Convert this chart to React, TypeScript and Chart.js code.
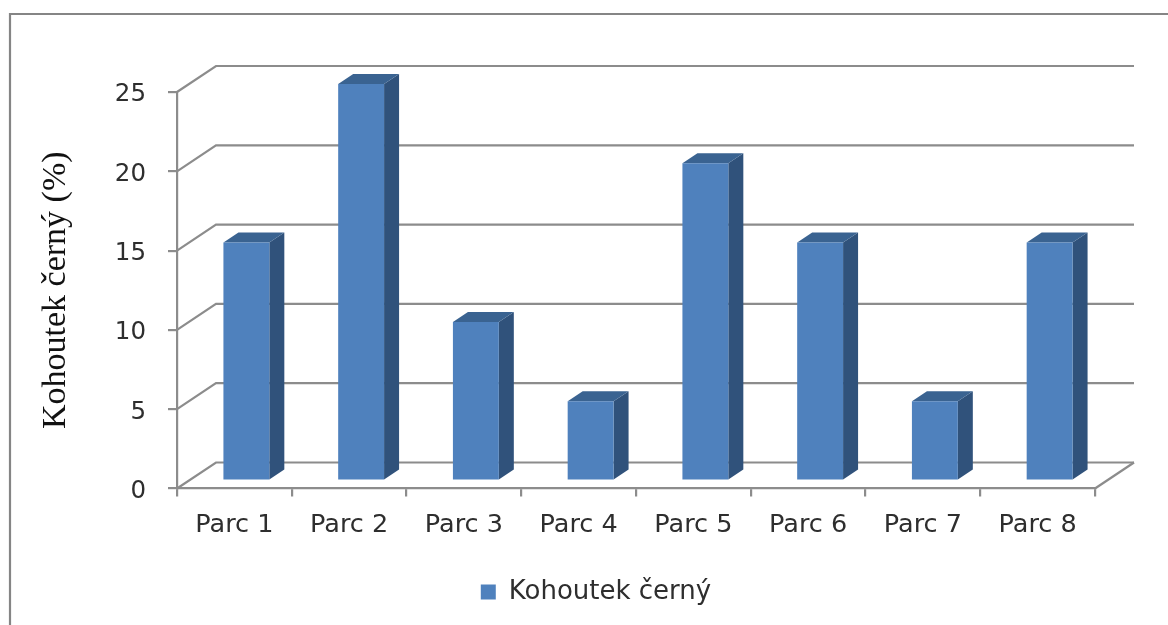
import React, { useEffect, useRef } from "react";
import { Chart, registerables } from "chart.js";

Chart.register(...registerables);

const categories = ["Parc 1", "Parc 2", "Parc 3", "Parc 4", "Parc 5", "Parc 6", "Parc 7", "Parc 8"];
const seriesValues = [15, 25, 10, 5, 20, 15, 5, 15];
const seriesName = "Kohoutek černý";
const axisTitle = "Kohoutek černý (%)";
const yTicks = [0, 5, 10, 15, 20, 25];

const LINE = "#8c8c8c";
const FACE = "#4f81bd";
const SIDE = "#30527b";
const TOP = "#3a6391";
const TEXT = "#2e2e2e";
const UI_FONT = "'DejaVu Sans', sans-serif";
const LINE_WIDTH = 2.2;

// Receding offset of the back wall, and of a bar's floor position and depth.
const WALL_DX = 39;
const WALL_DY = -26;
const BAR_SHIFT_X = 12;
const BAR_SHIFT_Y = -8;
const BAR_DX = 15;
const BAR_DY = -10;

const depthPlugin = {
  id: "depth",
  beforeDraw(chart: any) {
    // Outer frame, open towards the right and bottom page edges.
    const { ctx, width, height } = chart;
    ctx.save();
    ctx.strokeStyle = "#858585";
    ctx.lineWidth = LINE_WIDTH;
    ctx.beginPath();
    ctx.moveTo(10, height);
    ctx.lineTo(10, 14);
    ctx.lineTo(width, 14);
    ctx.stroke();
    ctx.restore();
  },
  beforeDatasetsDraw(chart: any) {
    const { ctx, chartArea, scales } = chart;
    const { left, right, bottom } = chartArea;
    ctx.save();
    ctx.strokeStyle = LINE;
    ctx.lineWidth = LINE_WIDTH;
    for (const value of yTicks) {
      const y = scales.y.getPixelForValue(value);
      ctx.beginPath();
      ctx.moveTo(left, y);
      ctx.lineTo(left + WALL_DX, y + WALL_DY);
      ctx.lineTo(right + WALL_DX, y + WALL_DY);
      ctx.stroke();
    }
    ctx.beginPath();
    ctx.moveTo(right, bottom);
    ctx.lineTo(right + WALL_DX, bottom + WALL_DY);
    ctx.stroke();
    ctx.restore();

    // Bars stand in the middle of the floor, so they sit up and to the right of the front axes.
    ctx.save();
    ctx.translate(BAR_SHIFT_X, BAR_SHIFT_Y);
    const bars = chart.getDatasetMeta(0).data;
    for (const bar of bars) {
      const x0 = bar.x - bar.width / 2;
      const x1 = bar.x + bar.width / 2;
      ctx.fillStyle = SIDE;
      ctx.beginPath();
      ctx.moveTo(x1, bar.y);
      ctx.lineTo(x1 + BAR_DX, bar.y + BAR_DY);
      ctx.lineTo(x1 + BAR_DX, bar.base + BAR_DY);
      ctx.lineTo(x1, bar.base);
      ctx.closePath();
      ctx.fill();
      ctx.fillStyle = TOP;
      ctx.beginPath();
      ctx.moveTo(x0, bar.y);
      ctx.lineTo(x0 + BAR_DX, bar.y + BAR_DY);
      ctx.lineTo(x1 + BAR_DX, bar.y + BAR_DY);
      ctx.lineTo(x1, bar.y);
      ctx.closePath();
      ctx.fill();
    }
  },
  afterDatasetsDraw(chart: any) {
    chart.ctx.restore();
  },
};

export default function App() {
  const ref = useRef<HTMLCanvasElement | null>(null);

  useEffect(() => {
    const chart = new Chart(ref.current as HTMLCanvasElement, {
      type: "bar",
      data: {
        labels: categories,
        datasets: [
          {
            label: seriesName,
            data: seriesValues,
            backgroundColor: FACE,
            borderWidth: 0,
            barPercentage: 0.4,
            categoryPercentage: 1,
            clip: false,
          } as any,
        ],
      },
      plugins: [depthPlugin],
      options: {
        responsive: false,
        animation: false,
        layout: { padding: { left: 24, right: 0, top: 92, bottom: 10 } },
        plugins: {
          tooltip: { enabled: false },
          legend: {
            position: "bottom",
            labels: {
              boxWidth: 15,
              boxHeight: 15,
              padding: 10,
              color: TEXT,
              font: { family: UI_FONT, size: 26 },
            },
          },
        },
        scales: {
          x: {
            grid: { drawOnChartArea: false, drawTicks: true, tickLength: 8, color: LINE, lineWidth: LINE_WIDTH },
            border: { color: LINE, width: LINE_WIDTH },
            ticks: { color: TEXT, font: { family: UI_FONT, size: 25.5 }, padding: 14, maxRotation: 0 },
            afterFit(scale: any) {
              scale.height = 80.5;
            },
          },
          y: {
            min: 0,
            max: 25,
            grid: { drawOnChartArea: false, drawTicks: true, tickLength: 9, color: LINE, lineWidth: LINE_WIDTH },
            border: { color: LINE, width: LINE_WIDTH },
            ticks: { stepSize: 5, color: TEXT, font: { family: UI_FONT, size: 24.5 }, padding: 22, labelOffset: 3 },
            title: {
              display: true,
              text: axisTitle,
              color: "#111111",
              font: { family: "'Liberation Serif', serif", size: 34 },
              padding: { top: 12, bottom: 0 },
            },
            afterFit(scale: any) {
              scale.width = 153;
            },
          },
          // Empty axis that reserves the margin to the right of the floor.
          margin: {
            type: "linear",
            position: "right",
            display: true,
            grid: { display: false },
            border: { display: false },
            ticks: { display: false },
            afterFit(scale: any) {
              scale.width = 73;
            },
          } as any,
        },
      },
    });
    return () => chart.destroy();
  }, []);

  return (
    <div style={{ position: "fixed", left: 0, top: 0, width: 1168, height: 625, background: "#ffffff" }}>
      <canvas ref={ref} width={1168} height={625} style={{ display: "block" }} />
    </div>
  );
}
